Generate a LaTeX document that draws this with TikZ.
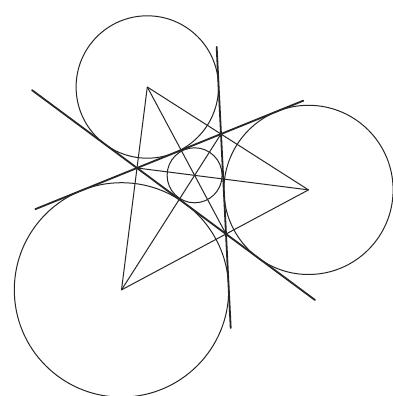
\documentclass[tikz,border=0pt]{standalone}
\usepackage{tikz}
\usetikzlibrary{calc}

\begin{document}
\begin{tikzpicture}[x=1pt, y=1pt,
    sideline/.style={draw=black!85, line width=1.8pt, line cap=round},
    thinline/.style={draw=black!85, line width=1pt, line join=round}]
  \useasboundingbox (0,0) rectangle (392,396);

  % small triangle and its incentre
  \coordinate (P) at (137,228);
  \coordinate (Q) at (226,162);
  \coordinate (R) at (221,262);
  \coordinate (I) at (194.6,220.7);
  % excentres
  \coordinate (Ip) at (308.5,206.1);
  \coordinate (Iq) at (147.3,309.0);
  \coordinate (Ir) at (121.5,106.1);

  % free ends of the long sides
  \coordinate (prA) at ($(P)!-1.21!(R)$);
  \coordinate (prB) at ($(P)!1.98!(R)$);
  \coordinate (pqA) at ($(P)!-1.18!(Q)$);
  \coordinate (pqB) at ($(P)!2.0!(Q)$);
  \coordinate (rqA) at ($(R)!-0.87!(Q)$);
  \coordinate (rqB) at ($(R)!1.94!(Q)$);

  % circles
  \draw[thinline] (I) circle[radius=27.5];
  \draw[thinline] (Ip) circle[radius=84.6];
  \draw[thinline] (Iq) circle[radius=71.2];
  \draw[thinline] (Ir) circle[radius=107.2];

  % sides, drawn long
  \draw[sideline] (prA) -- (prB);
  \draw[sideline] (pqA) -- (pqB);
  \draw[sideline] (rqA) -- (rqB);

  % triangle of the excentres and the bisectors
  \draw[thinline] (Iq) -- (Ir) -- (Ip) -- cycle;
  \draw[thinline] (Iq) -- (Q);
  \draw[thinline] (Ip) -- (P);
  \draw[thinline] (Ir) -- (R);
\end{tikzpicture}
\end{document}
